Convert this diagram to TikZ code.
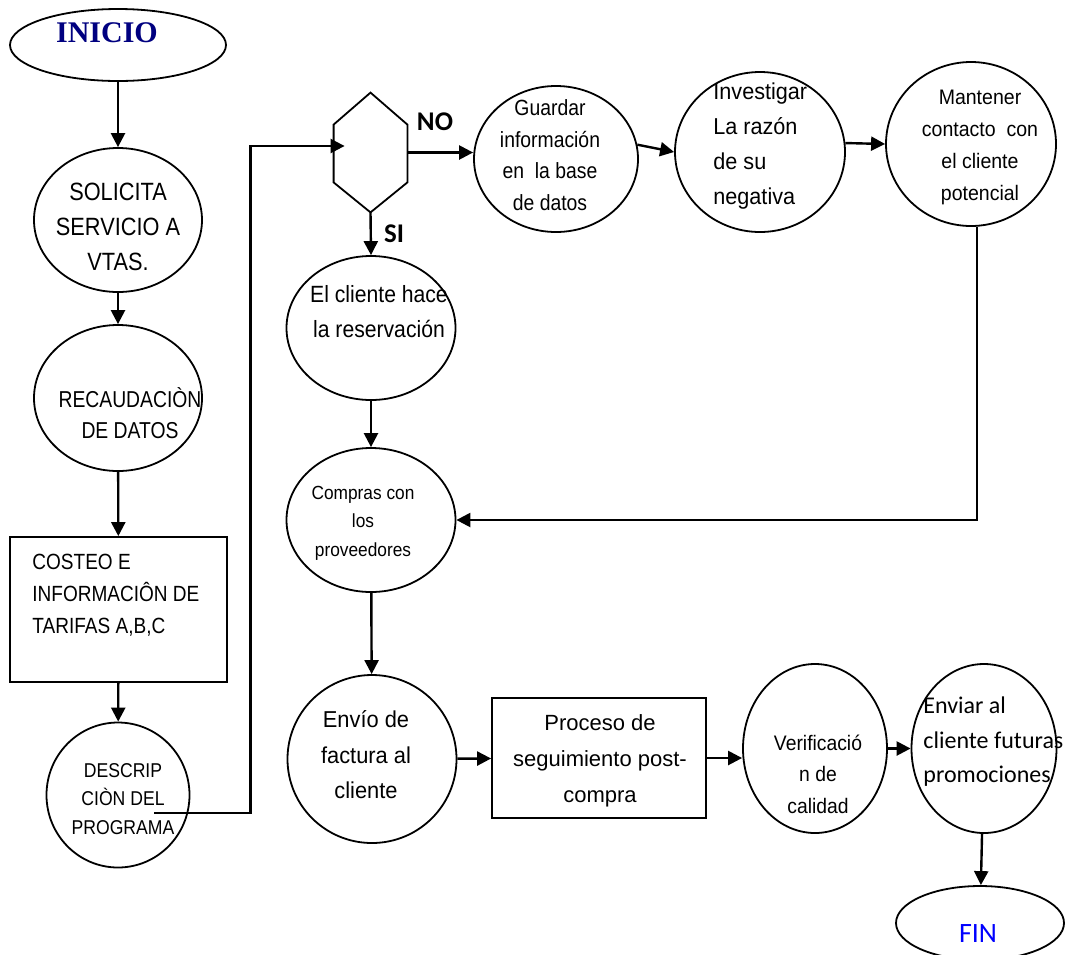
\documentclass[tikz,border=0pt]{standalone}
\usepackage{fontspec}
\setmainfont{Liberation Sans}
\newfontfamily\titlefont{Liberation Serif}
\newfontfamily\calfont{Carlito}
\usepackage{xcolor}
\definecolor{inicioblue}{RGB}{0, 0, 128}
\definecolor{finblue}{RGB}{0, 0, 255}
\newcommand{\setfs}[3]{\fontsize{#1}{#2}\selectfont\addfontfeature{FakeStretch=#3}}
\usepackage{tikz}
\usetikzlibrary{shapes,arrows.meta,positioning,calc}

\begin{document}
\begin{tikzpicture}[
    x=0.5pt, y=-0.5pt,
    oval/.style={ellipse, draw, line width=0.9pt, inner sep=0pt},
    box/.style={rectangle, draw, line width=0.9pt, inner sep=0pt},
    txt/.style={inner sep=0pt, align=center},
    arrow/.style={-{Triangle[length=7pt,width=7pt]}, line width=1.2pt}
]
\useasboundingbox (0,0) rectangle (1070,954);

% shapes
\node[oval, minimum width=108pt, minimum height=36pt] (inicio) at (118,45) {};
\node[oval, minimum width=84pt, minimum height=72pt] (solicita) at (118,220) {};
\node[oval, minimum width=84pt, minimum height=73pt] (recaud) at (118,398) {};
\node[box, minimum width=108.5pt, minimum height=72.5pt] (costeo) at (118.5,609.5) {};
\node[oval, minimum width=71.5pt, minimum height=72.5pt] (descrip) at (118,795) {};
\node[inner sep=0pt, minimum width=36.5pt, minimum height=59.5pt] (dec) at (370.5,152.5) {};
\draw[line width=0.9pt] (dec.north) -- ([yshift=-16pt]dec.north east) -- ([yshift=15pt]dec.south east)
    -- (dec.south) -- ([yshift=15pt]dec.south west) -- ([yshift=-16pt]dec.north west) -- cycle;
\node[oval, minimum width=82pt, minimum height=73pt] (guardar) at (556,159) {};
\node[oval, minimum width=85pt, minimum height=80pt] (investigar) at (760,152) {};
\node[oval, minimum width=85pt, minimum height=82pt] (mantener) at (971,144) {};
\node[oval, minimum width=84.5pt, minimum height=72pt] (cliente) at (371,328) {};
\node[oval, minimum width=84.5pt, minimum height=72pt] (compras) at (371,520) {};
\node[oval, minimum width=84.5pt, minimum height=84pt] (envio) at (372,759) {};
\node[box, minimum width=107pt, minimum height=60pt] (proceso) at (599,758) {};
\node[oval, minimum width=72pt, minimum height=84.5pt] (verif) at (815,748.5) {};
\node[oval, minimum width=72.5pt, minimum height=84.5pt] (enviar) at (984,748.5) {};
\node[oval, minimum width=84pt, minimum height=37pt] (fin) at (980,923) {};

% texts
\node[txt, text=inicioblue, font=\titlefont\bfseries\fontsize{15}{18}\selectfont] (inicio-t) at (107,33) {INICIO};
\node[txt, font={\setfs{12.5}{17.5}{0.87}}] (solicita-t) at (118,227) {SOLICITA\\SERVICIO A\\VTAS.};
\node[txt, font={\setfs{11.5}{15.5}{0.84}}] (recaud-t) at (130,413) {RECAUDACIÒN\\DE DATOS};
\node[txt, align=left, anchor=west, font={\setfs{11}{16}{0.865}}] (costeo-t) at (32,595) {COSTEO E\\INFORMACIÔN DE\\TARIFAS A,B,C};
\node[txt, font={\setfs{10}{14.25}{0.88}}] (descrip-t) at (123,799) {DESCRIP\\CIÒN DEL\\PROGRAMA};
\node[txt, font={\setfs{11.75}{17.5}{0.9}}] (cliente-t) at (379,312) {El cliente hace\\la reservación};
\node[txt, font={\setfs{9.5}{14.25}{0.91}}] (compras-t) at (363,523) {Compras con\\los\\proveedores};
\node[txt, font={\setfs{11}{15.85}{0.88}}] (guardar-t) at (550,155) {Guardar\\información\\en\ \ la base\\de datos};
\node[txt, align=left, anchor=west, font={\setfs{11.5}{17.5}{0.94}}] (investigar-t) at (713,146) {Investigar\\La razón\\de su\\negativa};
\node[txt, font={\setfs{10.5}{16}{0.93}}] (mantener-t) at (980,147) {Mantener\\contacto\ \ con\\el cliente\\potencial};
\node[txt, font={\setfs{11.5}{17.75}{0.95}}] (envio-t) at (366,755) {Envío de\\factura al\\cliente};
\node[txt, font={\setfs{11}{18}{1.0}}] (proceso-t) at (600,761) {Proceso de\\seguimiento post-\\compra};
\node[txt, font={\setfs{10.5}{15.75}{0.92}}] (verif-t) at (818,774) {Verificació\\n de\\calidad};
\node[txt, align=left, anchor=west, font=\calfont\fontsize{12}{17.25}\selectfont] (enviar-t) at (923,742) {Enviar al\\cliente futuras\\promociones};
\node[txt, text=finblue, font=\calfont\fontsize{14}{17}\selectfont] (fin-t) at (978,933) {FIN};
\node[txt, font=\calfont\bfseries\fontsize{13.5}{16}\selectfont] (no) at (435,122) {NO};
\node[txt, font=\calfont\bfseries\fontsize{13.5}{16}\selectfont] (si) at (394,234) {SI};

% connectors
\draw[arrow] (inicio) -- (solicita);
\draw[arrow] (solicita) -- (recaud);
\draw[arrow] (recaud) -- (costeo);
\draw[arrow] (costeo) -- (descrip);
\draw[arrow] ([shift={(36,18)}]descrip.center) -| ([shift={(-83,-6.5)}]dec.west) -- ([shift={(11,-6.5)}]dec.west);
\draw[arrow] (dec.east) -- (dec.east -| guardar.west);
\draw[arrow] (dec.south) -- (cliente.north);
\draw[arrow] (guardar.10) -- (investigar.west);
\draw[arrow] (investigar.6) -- (mantener.west);
\draw[arrow] ([xshift=3pt]mantener.south) |- (compras.east);
\draw[arrow] (cliente) -- (compras);
\draw[arrow] (compras) -- (envio);
\draw[arrow] (envio) -- (proceso);
\draw[arrow] (proceso.east) -- (proceso.east -| verif.west);
\draw[arrow] (verif) -- (enviar);
\draw[arrow] (enviar) -- (fin);

\end{tikzpicture}
\end{document}
